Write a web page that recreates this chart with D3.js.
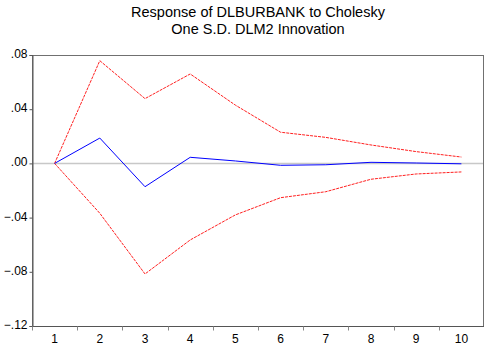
<!DOCTYPE html>
<html><head><meta charset="utf-8">
<script src="https://cdn.jsdelivr.net/npm/d3@7"></script>
<style>body{margin:0;background:#fff}svg{display:block}</style>
</head><body>
<svg id="c" width="487" height="349"></svg>
<script>
const periods = [1,2,3,4,5,6,7,8,9,10];
const response = [0, 0.0187, -0.0172, 0.0045, 0.0018, -0.0014, -0.0010, 0.0008, 0.0003, -0.0003];
const upperBand = [0, 0.0758, 0.0478, 0.0660, 0.0430, 0.0230, 0.0192, 0.0136, 0.0087, 0.0047];
const lowerBand = [0, -0.0368, -0.0816, -0.0565, -0.0380, -0.0253, -0.0209, -0.0117, -0.0078, -0.0063];
const yTicks = [0.08, 0.04, 0.00, -0.04, -0.08, -0.12];
const titleLines = ["Response of DLBURBANK to Cholesky", "One S.D. DLM2 Innovation"];

const svg = d3.select("#c");
const L = 32, R = 484, T = 55, B = 326;
const x = d3.scaleBand().domain(periods).range([L, R]);
const y = d3.scaleLinear().domain([-0.12, 0.08]).range([B, T]);
const font = "Liberation Sans, Arial, sans-serif";

// title
svg.selectAll("text.title").data(titleLines).enter().append("text")
  .attr("x", (L + R) / 2).attr("y", (d, i) => 17 + i * 17)
  .attr("text-anchor", "middle").attr("font-family", font).attr("font-size", 14.5)
  .attr("fill", "#000").text(d => d);

// zero line
svg.append("line").attr("x1", L).attr("x2", R).attr("y1", y(0)).attr("y2", y(0))
  .attr("stroke", "#c8c8c8").attr("stroke-width", 1.5);

// frame
svg.append("rect").attr("x", L + 0.5).attr("y", T + 0.5).attr("width", R - L - 1).attr("height", B - T)
  .attr("fill", "none").attr("stroke", "#707070").attr("stroke-width", 1);

// y axis
const fmt = v => { if (Math.abs(v) < 1e-9) return ".00"; const s = d3.format(".2f")(v); return s.replace("0.", "."); };
const yAxis = d3.axisLeft(y).tickValues(yTicks).tickSize(3).tickFormat(fmt);
const gy = svg.append("g").attr("transform", `translate(${L + 0.5},0)`).call(yAxis);
gy.select(".domain").attr("stroke", "#555");
gy.selectAll(".tick line").attr("stroke", "#555");
gy.selectAll(".tick text").attr("font-family", font).attr("font-size", 12).attr("fill", "#000").attr("x", -5).attr("dy", "0.2em");

// x axis: ticks at band boundaries, labels centered
const gx = svg.append("g").attr("transform", `translate(0,${B + 0.5})`);
gx.append("line").attr("x1", L).attr("x2", R).attr("stroke", "#555");
gx.selectAll("line.tk").data(periods).enter().append("line").attr("class", "tk")
  .attr("x1", d => Math.round(x(d)) + 0.5).attr("x2", d => Math.round(x(d)) + 0.5)
  .attr("y1", 0).attr("y2", 4).attr("stroke", "#888");
gx.selectAll("text").data(periods).enter().append("text")
  .attr("x", d => x(d) + x.bandwidth() / 2).attr("y", 16)
  .attr("text-anchor", "middle").attr("font-family", font).attr("font-size", 12)
  .text(d => d);

const line = d3.line().x((d, i) => x(periods[i]) + x.bandwidth() / 2).y(d => y(d));
svg.append("path").datum(upperBand).attr("d", line).attr("fill", "none")
  .attr("stroke", "#ff2020").attr("stroke-width", 1).attr("stroke-dasharray", "3,1");
svg.append("path").datum(lowerBand).attr("d", line).attr("fill", "none")
  .attr("stroke", "#ff2020").attr("stroke-width", 1).attr("stroke-dasharray", "3,1");
svg.append("path").datum(response).attr("d", line).attr("fill", "none")
  .attr("stroke", "#0000ff").attr("stroke-width", 1);
</script>
</body></html>
